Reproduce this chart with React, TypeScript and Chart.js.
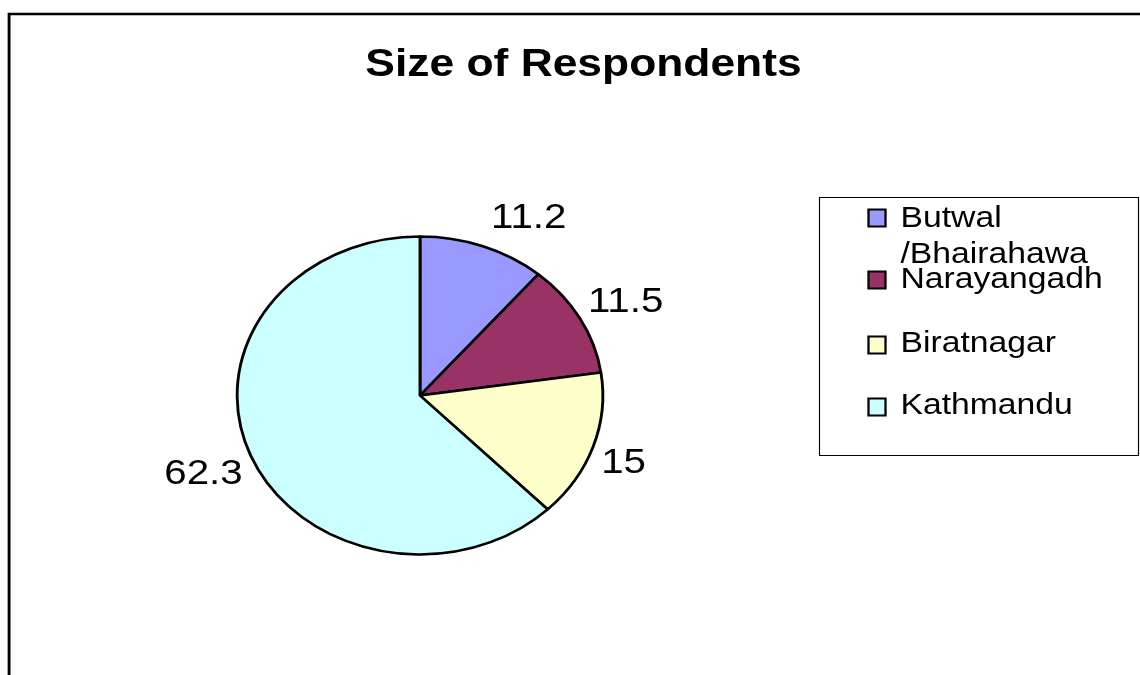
import { useEffect, useRef } from "react";
import { Chart, registerables } from "chart.js";

Chart.register(...registerables);

const chartTitle = "Size of Respondents";
const categories = ["Butwal /Bhairahawa", "Narayangadh", "Biratnagar", "Kathmandu"];
const legendLines = [["Butwal", "/Bhairahawa"], ["Narayangadh"], ["Biratnagar"], ["Kathmandu"]];
const values = [11.2, 11.5, 15, 62.3];
const valueLabels = ["11.2", "11.5", "15", "62.3"];
const colors = ["#9999FF", "#993366", "#FFFFCC", "#CCFFFF"];

const W = 1140;
const H = 675;
const SX = 1.15; // horizontal stretch of the whole picture
const FONT = '"Liberation Sans", Arial, Helvetica, sans-serif';

const PIE_CX = 420 / SX;
const PIE_CY = 395.5;
const PIE_R = 159;
const HALF = 170;

const stretchPlugin = {
  id: "stretchAndDecor",
  beforeDraw(chart: any) {
    const ctx = chart.ctx;
    ctx.save();
    ctx.fillStyle = "#ffffff";
    ctx.fillRect(0, 0, W, H);
    ctx.scale(SX, 1);
  },
  afterDraw(chart: any) {
    const ctx = chart.ctx;

    // outer frame
    ctx.save();
    ctx.strokeStyle = "#000";
    ctx.lineWidth = 2.5;
    ctx.beginPath();
    ctx.moveTo(7.9, H + 5);
    ctx.lineTo(7.9, 14);
    ctx.lineTo(W, 14);
    ctx.stroke();
    ctx.restore();

    // title
    ctx.save();
    ctx.fillStyle = "#000";
    ctx.font = `bold 38.6px ${FONT}`;
    ctx.textAlign = "center";
    ctx.textBaseline = "alphabetic";
    ctx.fillText(chartTitle, 583.5 / SX, 76);
    ctx.restore();

    // value labels
    const arcs = chart.getDatasetMeta(0).data;
    ctx.save();
    ctx.fillStyle = "#000";
    ctx.font = `35px ${FONT}`;
    ctx.textAlign = "center";
    ctx.textBaseline = "alphabetic";
    arcs.forEach((arc: any, i: number) => {
      const { x, y, startAngle, endAngle, outerRadius } = arc.getProps(
        ["x", "y", "startAngle", "endAngle", "outerRadius"],
        true
      );
      const mid = (startAngle + endAngle) / 2;
      const px = x + outerRadius * Math.cos(mid);
      const py = y + outerRadius * Math.sin(mid);
      const sinT = Math.cos(mid);
      const cosT = -Math.sin(mid);
      const txt = valueLabels[i];
      const w = ctx.measureText(txt).width;
      const cx = px + Math.sign(sinT) * (w / 2 + 8 / SX);
      const cy = py - (26 * cosT + 6 * Math.sign(cosT));
      ctx.fillText(txt, cx, cy + 12.5);
    });
    ctx.restore();

    // legend
    ctx.save();
    ctx.strokeStyle = "#000";
    ctx.lineWidth = 1;
    const bl = 819.5 / SX;
    const br = 1138.5 / SX;
    ctx.strokeRect(bl, 197.5, br - bl, 258);
    const squareTops = [209.5, 271.5, 336.5, 398.5];
    const baselines = [[227, 263], [288], [352], [414]];
    ctx.font = `29.3px ${FONT}`;
    ctx.textAlign = "left";
    ctx.textBaseline = "alphabetic";
    legendLines.forEach((lines, i) => {
      ctx.fillStyle = colors[i];
      const sx = 868.5 / SX;
      const sw = 17 / SX;
      ctx.fillRect(sx, squareTops[i], sw, 17);
      ctx.lineWidth = 2;
      ctx.strokeStyle = "#000";
      ctx.strokeRect(sx, squareTops[i], sw, 17);
      ctx.fillStyle = "#000";
      lines.forEach((ln, j) => {
        ctx.fillText(ln, 900.5 / SX, baselines[i][j]);
      });
    });
    ctx.restore();

    ctx.restore();
  },
};

export default function App() {
  const ref = useRef<HTMLCanvasElement | null>(null);

  useEffect(() => {
    if (!ref.current) return;
    const chart = new Chart(ref.current, {
      type: "pie",
      data: {
        labels: categories,
        datasets: [
          {
            data: values,
            backgroundColor: colors,
            borderColor: "#000000",
            borderWidth: 2.5,
            radius: PIE_R,
            clip: false as any,
          } as any,
        ],
      },
      options: {
        animation: false,
        responsive: true,
        maintainAspectRatio: false,
        devicePixelRatio: 1,
        layout: {
          padding: {
            left: PIE_CX - HALF,
            right: W - (PIE_CX + HALF),
            top: PIE_CY - HALF,
            bottom: H - (PIE_CY + HALF),
          },
        },
        plugins: {
          legend: { display: false },
          title: { display: false },
          tooltip: { enabled: false },
        },
        events: [],
      },
      plugins: [stretchPlugin],
    });
    return () => chart.destroy();
  }, []);

  return (
    <div
      style={{
        position: "fixed",
        left: 0,
        top: 0,
        width: W,
        height: H,
        background: "#ffffff",
        overflow: "hidden",
      }}
    >
      <canvas ref={ref} style={{ display: "block" }} />
    </div>
  );
}
